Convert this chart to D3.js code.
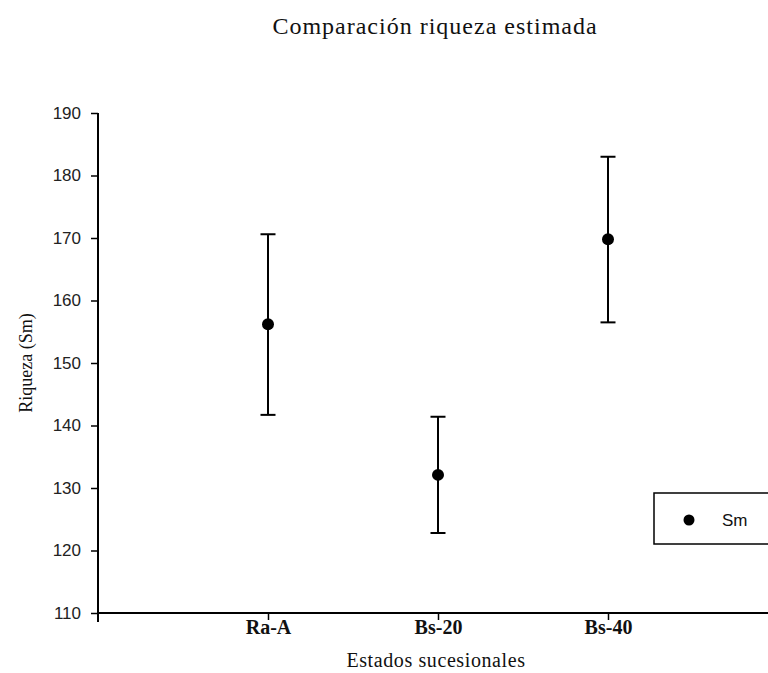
<!DOCTYPE html>
<html>
<head>
<meta charset="utf-8">
<script src="https://cdn.jsdelivr.net/npm/d3@7"></script>
<style>
  body { margin: 0; background: #fff; }
  svg { display: block; }
  .serif { font-family: "Liberation Serif", "Times New Roman", serif; }
  .sans { font-family: "Liberation Sans", Arial, sans-serif; }
</style>
</head>
<body>
<div id="container"></div>
<script>
// data
var categories = ["Ra-A", "Bs-20", "Bs-40"];
var means = [156.2, 132.1, 169.8];
var upper = [170.6, 141.4, 183.0];
var lower = [141.7, 122.8, 156.5];
var yTicks = [110, 120, 130, 140, 150, 160, 170, 180, 190];

var width = 768;
var height = 673;
var margin = { top: 113, bottom: 60, left: 98, right: -10 }; // plot runs past the right edge

var svg = d3.select("#container")
    .append("svg")
    .attr("width", width)
    .attr("height", height);

var xScale = d3.scaleLinear()
    .domain([0, 4])
    .range([margin.left, width - margin.right]);

var yScale = d3.scaleLinear()
    .domain([110, 190])
    .range([height - margin.bottom, margin.top]);

var data = categories.map(function (c, i) {
    return { cat: c, pos: i + 1, mean: means[i], hi: upper[i], lo: lower[i] };
});

// title
svg.append("text")
    .attr("class", "serif")
    .attr("x", 435)
    .attr("y", 34)
    .attr("text-anchor", "middle")
    .attr("font-size", "24px")
    .attr("letter-spacing", "1px")
    .attr("fill", "#111")
    .text("Comparación riqueza estimada");

// y axis
var yAxis = svg.append("g")
    .attr("transform", "translate(" + margin.left + ",0)")
    .call(d3.axisLeft(yScale).tickValues(yTicks).tickSize(7).tickPadding(10).tickFormat(d3.format("d")));
yAxis.select(".domain")
    .attr("d", "M0," + yScale(190) + "V" + (yScale(110) + 9))
    .attr("stroke-width", 2);
yAxis.selectAll(".tick line").attr("stroke-width", 1.5);
yAxis.selectAll(".tick text")
    .attr("class", "sans")
    .attr("font-size", "17px")
    .attr("fill", "#222");

// x axis
var xAxis = svg.append("g")
    .attr("transform", "translate(0," + yScale(110) + ")")
    .call(d3.axisBottom(xScale)
        .tickValues(data.map(function (d) { return d.pos; }))
        .tickSize(7)
        .tickFormat(function (d) { return categories[d - 1]; }));
xAxis.select(".domain")
    .attr("d", "M" + margin.left + ",0H" + width)
    .attr("stroke-width", 2);
xAxis.selectAll(".tick line").attr("stroke-width", 1.5);
xAxis.selectAll(".tick text")
    .attr("class", "serif")
    .attr("y", 21)
    .attr("dy", 0)
    .attr("font-size", "20px")
    .attr("font-weight", "bold")
    .attr("fill", "#111");

// axis labels
svg.append("text")
    .attr("class", "serif")
    .attr("x", 436)
    .attr("y", 667)
    .attr("text-anchor", "middle")
    .attr("font-size", "20px")
    .attr("letter-spacing", "0.6px")
    .attr("fill", "#111")
    .text("Estados sucesionales");

svg.append("text")
    .attr("class", "serif")
    .attr("transform", "translate(32," + 363 + ") rotate(-90)")
    .attr("text-anchor", "middle")
    .attr("font-size", "18px")
    .attr("fill", "#111")
    .text("Riqueza (Sm)");

// error bars
var bars = svg.append("g").selectAll("g")
    .data(data)
    .enter()
    .append("g");

bars.append("line")
    .attr("x1", function (d) { return xScale(d.pos); })
    .attr("x2", function (d) { return xScale(d.pos); })
    .attr("y1", function (d) { return yScale(d.hi); })
    .attr("y2", function (d) { return yScale(d.lo); })
    .attr("stroke", "#000")
    .attr("stroke-width", 2);

bars.selectAll(".cap")
    .data(function (d) { return [{ pos: d.pos, v: d.hi }, { pos: d.pos, v: d.lo }]; })
    .enter()
    .append("line")
    .attr("class", "cap")
    .attr("x1", function (d) { return xScale(d.pos) - 7.5; })
    .attr("x2", function (d) { return xScale(d.pos) + 7.5; })
    .attr("y1", function (d) { return yScale(d.v); })
    .attr("y2", function (d) { return yScale(d.v); })
    .attr("stroke", "#000")
    .attr("stroke-width", 2);

bars.append("circle")
    .attr("cx", function (d) { return xScale(d.pos); })
    .attr("cy", function (d) { return yScale(d.mean); })
    .attr("r", 6)
    .attr("fill", "#000");

// legend
var legend = svg.append("g").attr("transform", "translate(654,493)");
legend.append("rect")
    .attr("width", 130)
    .attr("height", 51)
    .attr("fill", "#fff")
    .attr("stroke", "#000")
    .attr("stroke-width", 1.5);
legend.append("circle")
    .attr("cx", 35)
    .attr("cy", 27)
    .attr("r", 5.5)
    .attr("fill", "#000");
legend.append("text")
    .attr("class", "sans")
    .attr("x", 68)
    .attr("y", 33)
    .attr("font-size", "17px")
    .attr("fill", "#111")
    .text("Sm");
</script>
</body>
</html>
